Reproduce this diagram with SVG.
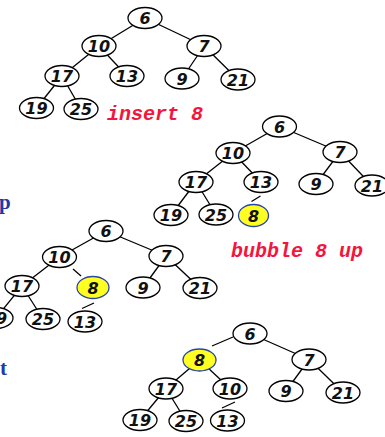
<svg xmlns="http://www.w3.org/2000/svg" width="385" height="437" viewBox="0 0 385 437">
<style>
.e{fill:#fff;stroke:#000;stroke-width:1.3}
.h{fill:#ffff22;stroke:#2a45a8;stroke-width:1.3}
.t{font-family:"DejaVu Sans",Verdana,sans-serif;font-weight:bold;font-style:italic;font-size:16px;text-anchor:middle;fill:#111}
.c line{stroke:#000;stroke-width:1.3}
.lab{font-family:"Liberation Mono","Courier New",monospace;font-weight:bold;font-style:italic;font-size:20px;fill:#f5143c}
.side{font-family:"Liberation Serif","Times New Roman",serif;font-weight:bold;font-size:21px;fill:#1c3aa8}
</style>
<g id="connectors" class="c">
<!-- tree 1 -->
<line x1="145" y1="18" x2="99" y2="46"/><line x1="145" y1="18" x2="204" y2="46"/>
<line x1="99" y1="46" x2="62" y2="76"/><line x1="99" y1="46" x2="127" y2="76"/>
<line x1="204" y1="46" x2="182" y2="78.5"/><line x1="204" y1="46" x2="238" y2="79.5"/>
<line x1="62" y1="76" x2="36.5" y2="108"/><line x1="62" y1="76" x2="81" y2="109"/>
<!-- tree 2 -->
<line x1="279.5" y1="126.5" x2="233" y2="153"/><line x1="279.5" y1="126.5" x2="340" y2="152"/>
<line x1="233" y1="153" x2="196" y2="182"/><line x1="233" y1="153" x2="261" y2="182"/>
<line x1="340" y1="152" x2="316" y2="184"/><line x1="340" y1="152" x2="372" y2="185.5"/>
<line x1="196" y1="182" x2="171" y2="215"/><line x1="196" y1="182" x2="216" y2="214.5"/>
<line x1="260.5" y1="196" x2="251.5" y2="201.5"/>
<!-- tree 3 -->
<line x1="106" y1="231" x2="59.5" y2="257"/><line x1="106" y1="231" x2="166" y2="256"/>
<line x1="59.5" y1="257" x2="22" y2="286"/>
<line x1="166" y1="256" x2="143" y2="287.5"/><line x1="166" y1="256" x2="200" y2="288"/>
<line x1="22" y1="286" x2="-4" y2="318"/><line x1="22" y1="286" x2="43" y2="319"/>
<line x1="73" y1="269" x2="81" y2="276"/>
<line x1="94" y1="303" x2="82" y2="308.5"/>
<!-- tree 4 -->
<line x1="212" y1="346" x2="233" y2="337"/>
<line x1="250" y1="333.5" x2="309" y2="359.5"/>
<line x1="199.5" y1="360" x2="166" y2="388.5"/><line x1="199.5" y1="360" x2="230" y2="388.5"/>
<line x1="309" y1="359.5" x2="286" y2="391"/><line x1="309" y1="359.5" x2="343" y2="392.5"/>
<line x1="166" y1="388.5" x2="140" y2="420"/><line x1="166" y1="388.5" x2="186" y2="421"/>
<line x1="235" y1="402" x2="222" y2="408"/>
</g>
<!-- tree 1 -->
<g id="t1-6"><ellipse class="e" cx="145" cy="18" rx="17" ry="10.5"/><text class="t" x="145" y="24">6</text></g>
<g id="t1-10"><ellipse class="e" cx="99" cy="46" rx="17" ry="10.5"/><text class="t" x="99" y="52">10</text></g>
<g id="t1-7"><ellipse class="e" cx="204" cy="46" rx="17" ry="10.5"/><text class="t" x="204" y="52">7</text></g>
<g id="t1-17"><ellipse class="e" cx="62" cy="76" rx="17" ry="10.5"/><text class="t" x="62" y="82">17</text></g>
<g id="t1-13"><ellipse class="e" cx="127" cy="76" rx="17" ry="10.5"/><text class="t" x="127" y="82">13</text></g>
<g id="t1-9"><ellipse class="e" cx="182" cy="78.5" rx="17" ry="10.5"/><text class="t" x="182" y="84.5">9</text></g>
<g id="t1-21"><ellipse class="e" cx="238" cy="79.5" rx="17" ry="10.5"/><text class="t" x="238" y="85.5">21</text></g>
<g id="t1-19"><ellipse class="e" cx="36.5" cy="108" rx="17" ry="10.5"/><text class="t" x="36.5" y="114">19</text></g>
<g id="t1-25"><ellipse class="e" cx="81" cy="109" rx="17" ry="10.5"/><text class="t" x="81" y="115">25</text></g>
<text id="lbl-insert" class="lab" x="107" y="120">insert 8</text>
<!-- tree 2 -->
<g id="t2-6"><ellipse class="e" cx="279.5" cy="126.5" rx="17" ry="10.5"/><text class="t" x="279.5" y="132.5">6</text></g>
<g id="t2-10"><ellipse class="e" cx="233" cy="153" rx="17" ry="10.5"/><text class="t" x="233" y="159">10</text></g>
<g id="t2-7"><ellipse class="e" cx="340" cy="152" rx="17" ry="10.5"/><text class="t" x="340" y="158">7</text></g>
<g id="t2-17"><ellipse class="e" cx="196" cy="182" rx="17" ry="10.5"/><text class="t" x="196" y="188">17</text></g>
<g id="t2-13"><ellipse class="e" cx="261" cy="182" rx="17" ry="10.5"/><text class="t" x="261" y="188">13</text></g>
<g id="t2-9"><ellipse class="e" cx="316" cy="184" rx="17" ry="10.5"/><text class="t" x="316" y="190">9</text></g>
<g id="t2-21"><ellipse class="e" cx="372" cy="185.5" rx="17" ry="10.5"/><text class="t" x="372" y="191.5">21</text></g>
<g id="t2-19"><ellipse class="e" cx="171" cy="215" rx="17" ry="10.5"/><text class="t" x="171" y="221">19</text></g>
<g id="t2-25"><ellipse class="e" cx="216" cy="214.5" rx="17" ry="10.5"/><text class="t" x="216" y="220.5">25</text></g>
<g id="t2-8"><ellipse class="h" cx="253.5" cy="215.5" rx="15" ry="11"/><text class="t" x="253.5" y="221.5">8</text></g>
<text id="lbl-bubble" class="lab" x="231" y="257">bubble 8 up</text>
<!-- tree 3 -->
<g id="t3-6"><ellipse class="e" cx="106" cy="231" rx="17" ry="10.5"/><text class="t" x="106" y="237">6</text></g>
<g id="t3-10"><ellipse class="e" cx="59.5" cy="257" rx="17" ry="10.5"/><text class="t" x="59.5" y="263">10</text></g>
<g id="t3-7"><ellipse class="e" cx="166" cy="256" rx="17" ry="10.5"/><text class="t" x="166" y="262">7</text></g>
<g id="t3-17"><ellipse class="e" cx="22" cy="286" rx="17" ry="10.5"/><text class="t" x="22" y="292">17</text></g>
<g id="t3-8"><ellipse class="h" cx="93" cy="287.5" rx="16" ry="11"/><text class="t" x="93" y="293.5">8</text></g>
<g id="t3-9"><ellipse class="e" cx="143" cy="287.5" rx="17" ry="10.5"/><text class="t" x="143" y="293.5">9</text></g>
<g id="t3-21"><ellipse class="e" cx="200" cy="288" rx="17" ry="10.5"/><text class="t" x="200" y="294">21</text></g>
<g id="t3-19"><ellipse class="e" cx="-4" cy="318" rx="17" ry="10.5"/><text class="t" x="-4" y="324">19</text></g>
<g id="t3-25"><ellipse class="e" cx="43" cy="319" rx="17" ry="10.5"/><text class="t" x="43" y="325">25</text></g>
<g id="t3-13"><ellipse class="e" cx="85" cy="321.5" rx="17" ry="10.5"/><text class="t" x="85" y="327.5">13</text></g>
<!-- tree 4 -->
<g id="t4-6"><ellipse class="e" cx="250" cy="333.5" rx="17" ry="10.5"/><text class="t" x="250" y="339.5">6</text></g>
<g id="t4-8"><ellipse class="h" cx="199.5" cy="360" rx="16.5" ry="11"/><text class="t" x="199.5" y="366">8</text></g>
<g id="t4-7"><ellipse class="e" cx="309" cy="359.5" rx="17" ry="10.5"/><text class="t" x="309" y="365.5">7</text></g>
<g id="t4-17"><ellipse class="e" cx="166" cy="388.5" rx="17" ry="10.5"/><text class="t" x="166" y="394.5">17</text></g>
<g id="t4-10"><ellipse class="e" cx="230" cy="388.5" rx="17" ry="10.5"/><text class="t" x="230" y="394.5">10</text></g>
<g id="t4-9"><ellipse class="e" cx="286" cy="391" rx="17" ry="10.5"/><text class="t" x="286" y="397">9</text></g>
<g id="t4-21"><ellipse class="e" cx="343" cy="392.5" rx="17" ry="10.5"/><text class="t" x="343" y="398.5">21</text></g>
<g id="t4-19"><ellipse class="e" cx="140" cy="420" rx="17" ry="10.5"/><text class="t" x="140" y="426">19</text></g>
<g id="t4-25"><ellipse class="e" cx="186" cy="421" rx="17" ry="10.5"/><text class="t" x="186" y="427">25</text></g>
<g id="t4-13"><ellipse class="e" cx="227.5" cy="420.5" rx="17" ry="10.5"/><text class="t" x="227.5" y="426.5">13</text></g>
<!-- cropped side text -->
<text class="side" x="-1" y="209">p</text>
<text class="side" x="0" y="375">t</text>
</svg>
